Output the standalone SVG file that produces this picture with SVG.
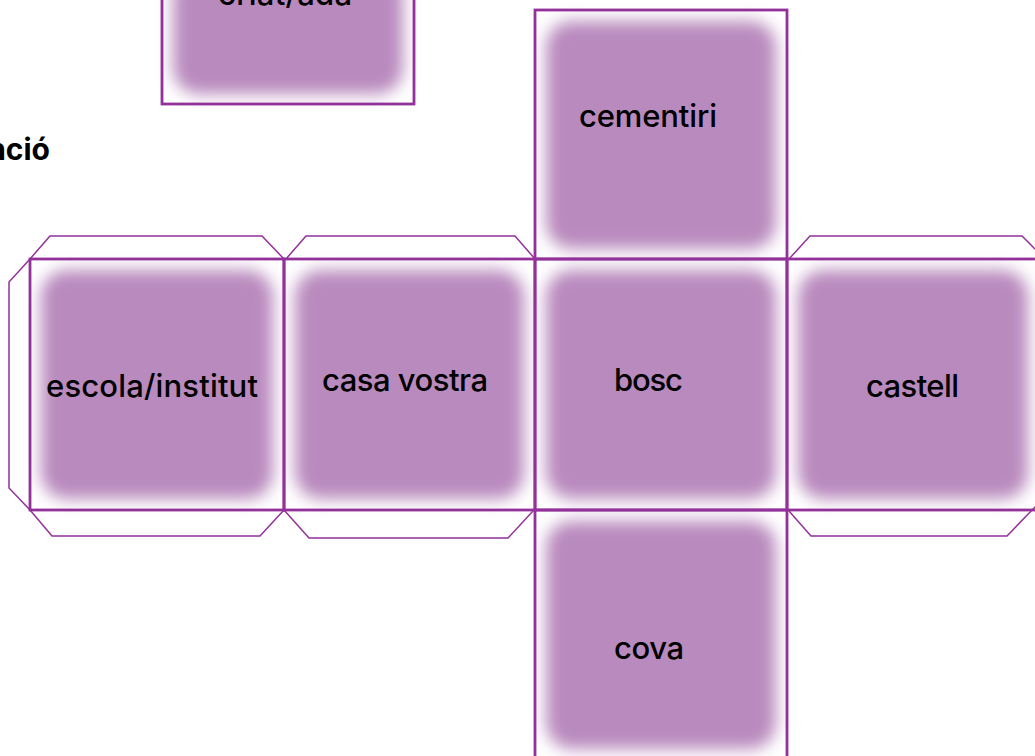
<svg xmlns="http://www.w3.org/2000/svg" width="1035" height="756" viewBox="0 0 1035 756">
<style>
.fill{fill:#b98abe;filter:url(#soft)}
.frame{fill:none;stroke:#93319a;stroke-width:2.8}
.flap{fill:none;stroke:#93319a;stroke-width:1.5}
text{font-family:"Inter","Liberation Sans",sans-serif;font-size:31px;font-weight:500;fill:#000}
</style>
<defs><filter id="soft" x="-20%" y="-20%" width="140%" height="140%"><feGaussianBlur stdDeviation="8"/></filter></defs>
<rect width="1035" height="756" fill="#fff"/>
<g id="connectors">
<path class="flap" d="M30 259L50 236H262L284 259"/>
<path class="flap" d="M286 259L306 236H515L535 259"/>
<path class="flap" d="M789 259L810 236H1022L1036 250"/>
<path class="flap" d="M30 510L52 536H260L284 510"/>
<path class="flap" d="M284 510L309 538H508L533 511"/>
<path class="flap" d="M789 511L811 536H1007L1036 506"/>
<path class="flap" d="M30 259L9 282V488L30 510"/>
</g>
<g id="node-criat"><rect class="fill" x="173" y="-30" width="230" height="124" rx="26"/><rect class="frame" x="162" y="-30" width="252" height="134"/><text x="218" y="5" textLength="134">criat/ada</text></g>
<g id="node-cementiri"><rect class="fill" x="546" y="21" width="230" height="228" rx="26"/><rect class="frame" x="535" y="10" width="252" height="249"/><text x="579" y="127" textLength="138">cementiri</text></g>
<g id="node-escola"><rect class="fill" x="41" y="270" width="232" height="229" rx="26"/><rect class="frame" x="30" y="259" width="254" height="251"/><text x="46" y="397" textLength="212">escola/institut</text></g>
<g id="node-casa"><rect class="fill" x="295" y="270" width="229" height="229" rx="26"/><rect class="frame" x="284" y="259" width="251" height="251"/><text x="322" y="391" textLength="166">casa vostra</text></g>
<g id="node-bosc"><rect class="fill" x="546" y="270" width="230" height="229" rx="26"/><rect class="frame" x="535" y="259" width="252" height="251"/><text x="614" y="391" textLength="69">bosc</text></g>
<g id="node-castell"><rect class="fill" x="798" y="270" width="230" height="229" rx="26"/><rect class="frame" x="787" y="259" width="260" height="251"/><text x="866" y="397" textLength="93">castell</text></g>
<g id="node-cova"><rect class="fill" x="546" y="521" width="230" height="228" rx="26"/><rect class="frame" x="535" y="510" width="252" height="260"/><text x="614" y="659" textLength="70">cova</text></g>
<text x="50" y="160" text-anchor="end" style="font-weight:700;font-size:30px">nció</text>
</svg>
